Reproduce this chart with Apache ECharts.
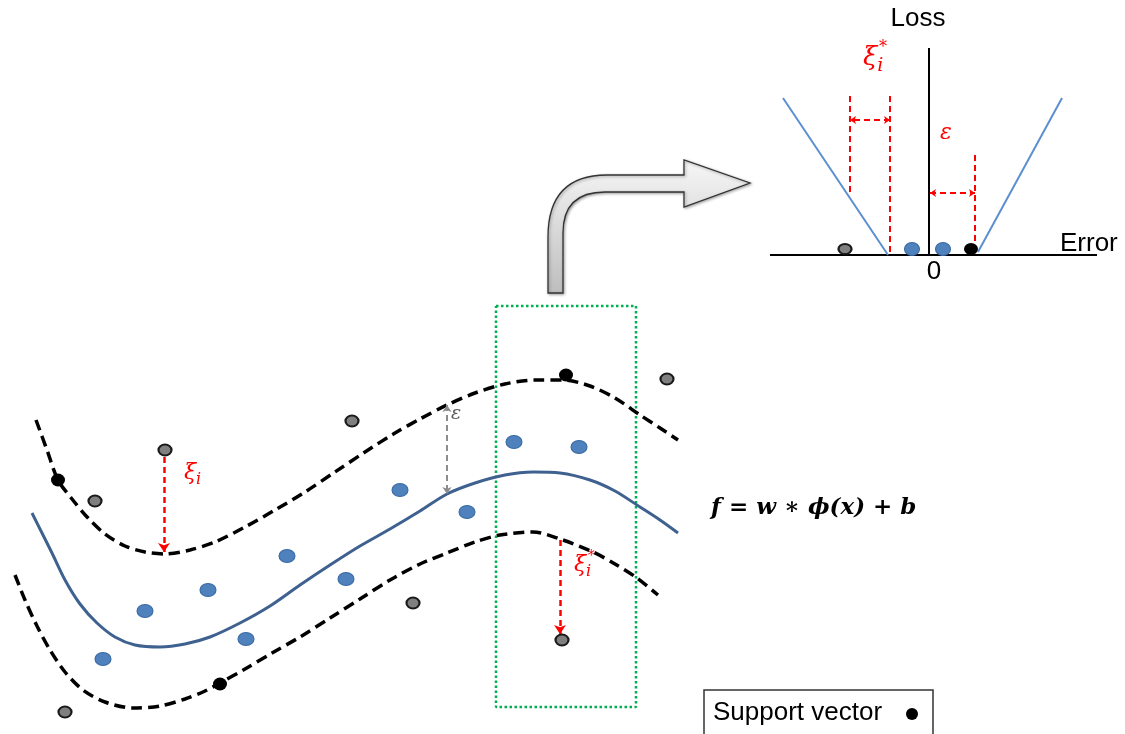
<!DOCTYPE html>
<html><head><meta charset="utf-8">
<script src="https://cdn.jsdelivr.net/npm/echarts@6/dist/echarts.min.js"></script>
<style>html,body{margin:0;padding:0;background:#fff}#c{width:1125px;height:734px}</style>
</head><body><div id="c"></div>
<script>
// ---- data (diagram coordinates) ----
const upperBand = [[36,420],[47,450],[58,480],[72,499],[88,518],[105,534],[125,546],[145,552],[165,554],[190,550],[215,542],[245,527],[275,510],[305,492],[335,472],[365,452],[395,433],[420,419],[447,405],[475,393],[505,384],[535,380],[563,380],[590,386],[615,398],[640,415],[660,428],[678,440]];
const regression = [[32,513],[42,533],[52,553],[65,580],[80,604],[97,623],[115,637],[135,645],[160,647],[185,644],[210,637],[240,623],[270,606],[300,585],[330,565],[360,546],[390,529],[420,511],[447,494],[475,483],[505,475],[533,472],[560,473],[590,480],[615,491],[640,507],[660,520],[678,533]];
const lowerBand = [[15,575],[25,600],[37,626],[50,650],[65,672],[83,690],[105,702],[133,708],[160,706],[185,699],[205,691],[220,683],[245,669],[272,653],[300,637],[330,618],[360,599],[390,580],[420,564],[447,553],[475,542],[500,535],[533,532],[560,539],[593,552],[615,564],[637,578],[658,595]];
const outsidePoints = [[165,450],[95,501],[352,421],[667,379],[413,603],[562,640],[65,712]];
const supportPoints = [[58,480],[566,375],[220,684]];
const insidePoints = [[514,442],[579,447],[400,490],[467,512],[287,556],[346,579],[208,590],[145,611],[246,639],[103,659]];
const windowBox = [[496,306],[636,306],[636,707],[496,707],[496,306]];
// inset loss function
const lossAxisV = [[929,48],[929,255]];
const lossAxisH = [[770,255],[1097,255]];
const lossLeft = [[783,98],[888,255]];
const lossRight = [[978,252],[1062,98]];
const insetGray = [[845,249]];
const insetBlue = [[912,249],[943,249]];
const insetBlack = [[971,249]];
const redGuides = [[[850,96],[850,195]],[[890,96],[890,255]],[[975,155],[975,250]]];
const redSpans = [[[890,120],[850,120]],[[930,193],[975,193]]];
const slackArrows = [[[164,457],[164,552]],[[560,540],[560,634]]];
const epsArrow = [[[447,405],[447,494]]];
const bentArrow = [['M',548,293],['L',548,237],['Q',548,175,607,175],['L',684,175],['L',684,160],['L',750,183],['L',684,207],['L',684,192],['L',605,192],['Q',563,192,563,233],['L',563,293],['Z']];

const chart = echarts.init(document.getElementById('c'));
const dashed = {color:'#000', width:3.5, type:[11,6]};
const serifI = '"DejaVu Serif", "Liberation Serif", serif';
const sans = '"Liberation Sans", Arial, sans-serif';
function xi(x, y, size, star){
  const els = [{type:'text', x:x, y:y, style:{text:'ξ', font:'italic '+size+'px '+serifI, fill:'#ff0000', textVerticalAlign:'middle'}}];
  els.push({type:'text', x:x+size*0.55, y:y+size*0.3, style:{text:'i', font:'italic '+Math.round(size*0.72)+'px '+serifI, fill:'#ff0000', textVerticalAlign:'middle'}});
  if(star) els.push({type:'text', x:x+size*0.62, y:y-size*0.4, style:{text:'*', font:Math.round(size*0.62)+'px '+serifI, fill:'#ff0000', textVerticalAlign:'middle'}});
  return els;
}
chart.setOption({
  animation:false,
  grid:{left:0,right:0,top:0,bottom:0},
  xAxis:{type:'value',min:0,max:1125,show:false},
  yAxis:{type:'value',min:0,max:734,inverse:true,show:false},
  series:[
    {type:'custom', renderItem:function(params, api){
        let d='';
        bentArrow.forEach(s=>{
          if(s[0]==='Z'){d+='Z';return;}
          if(s[0]==='Q'){const a=api.coord([s[1],s[2]]), b=api.coord([s[3],s[4]]); d+='Q'+a[0]+' '+a[1]+' '+b[0]+' '+b[1]+' ';}
          else {const a=api.coord([s[1],s[2]]); d+=s[0]+a[0]+' '+a[1]+' ';}
        });
        return {type:'path', shape:{pathData:d}, style:{fill:new echarts.graphic.LinearGradient(0,0,0,1,[{offset:0,color:'#f7f7f7'},{offset:1,color:'#bdbdbd'}]), stroke:'#333', lineWidth:1.3, shadowBlur:3, shadowColor:'rgba(0,0,0,0.35)', shadowOffsetX:1, shadowOffsetY:1}};
      }, data:[[0,0]], silent:true, z:1},
    {type:'line', data:windowBox, symbol:'none', lineStyle:{color:'#00b050', width:2.5, type:[2.5,2.5]}, z:2},
    {type:'line', data:upperBand, smooth:0.3, symbol:'none', lineStyle:dashed, z:3},
    {type:'line', data:lowerBand, smooth:0.3, symbol:'none', lineStyle:dashed, z:3},
    {type:'line', data:regression, smooth:0.3, symbol:'none', lineStyle:{color:'#3f6190', width:3}, z:3},
    {type:'line', data:lossAxisV, symbol:'none', lineStyle:{color:'#000', width:2}},
    {type:'line', data:lossAxisH, symbol:'none', lineStyle:{color:'#000', width:2}},
    {type:'line', data:lossLeft, symbol:'none', lineStyle:{color:'#5b8fd0', width:2}},
    {type:'line', data:lossRight, symbol:'none', lineStyle:{color:'#5b8fd0', width:2}},
    {type:'lines', coordinateSystem:'cartesian2d', data:redGuides.map(c=>({coords:c})), symbol:'none', lineStyle:{color:'#ff0000', width:2, type:[6,4], opacity:1}},
    {type:'lines', coordinateSystem:'cartesian2d', data:redSpans.map(c=>({coords:c})), symbol:['arrow','arrow'], symbolSize:6, lineStyle:{color:'#ff0000', width:2, type:[6,4], opacity:1}},
    {type:'lines', coordinateSystem:'cartesian2d', data:slackArrows.map(c=>({coords:c})), symbol:['none','arrow'], symbolSize:9, lineStyle:{color:'#ff0000', width:2.5, type:[6,4], opacity:1}, z:4},
    {type:'lines', coordinateSystem:'cartesian2d', data:epsArrow.map(c=>({coords:c})), symbol:['arrow','arrow'], symbolSize:7, lineStyle:{color:'#8c8c8c', width:2, type:[6,4], opacity:1}, z:4},
    {type:'scatter', data:outsidePoints, symbol:'circle', symbolSize:[13,11], itemStyle:{color:'#7f7f7f', borderColor:'#1a1a1a', borderWidth:2, opacity:1}, z:5},
    {type:'scatter', data:insetGray, symbol:'circle', symbolSize:[13,10], itemStyle:{color:'#7f7f7f', borderColor:'#1a1a1a', borderWidth:2, opacity:1}, z:5},
    {type:'scatter', data:supportPoints, symbol:'circle', symbolSize:[14,13], itemStyle:{color:'#000', opacity:1}, z:5},
    {type:'scatter', data:insetBlack, symbol:'circle', symbolSize:[14,12], itemStyle:{color:'#000', opacity:1}, z:5},
    {type:'scatter', data:insidePoints, symbol:'circle', symbolSize:[16,13], itemStyle:{color:'#4f81bd', borderColor:'#3a6aa5', borderWidth:1, opacity:1}, z:5},
    {type:'scatter', data:insetBlue, symbol:'circle', symbolSize:[15,13], itemStyle:{color:'#4f81bd', borderColor:'#3a6aa5', borderWidth:1, opacity:1}, z:5}
  ],
  graphic:[
    {type:'text', x:918, y:19, style:{text:'Loss', font:'26px '+sans, fill:'#000', textAlign:'center', textVerticalAlign:'middle'}},
    {type:'text', x:1060, y:244, style:{text:'Error', font:'26px '+sans, fill:'#000', textVerticalAlign:'middle'}},
    {type:'text', x:934, y:272, style:{text:'0', font:'26px '+sans, fill:'#000', textAlign:'center', textVerticalAlign:'middle'}},
    {type:'text', x:946, y:133, style:{text:'ε', font:'italic 22px '+serifI, fill:'#ff0000', textAlign:'center', textVerticalAlign:'middle'}},
    {type:'text', x:456, y:414, style:{text:'ε', font:'italic 19px '+serifI, fill:'#595959', textAlign:'center', textVerticalAlign:'middle'}},
    ...xi(863, 58, 26, true),
    ...xi(184, 473, 22, false),
    ...xi(574, 565, 22, true),
    {type:'text', x:711, y:508, style:{text:'f = w ∗ ϕ(x) + b', font:'italic bold 23px '+serifI, fill:'#000', textVerticalAlign:'middle'}},
    {type:'rect', shape:{x:704, y:690, width:229, height:60}, style:{fill:'#fff', stroke:'#333', lineWidth:1.5}},
    {type:'text', x:713, y:713, style:{text:'Support vector', font:'26px '+sans, fill:'#000', textVerticalAlign:'middle'}},
    {type:'circle', shape:{cx:912, cy:714, r:6}, style:{fill:'#000'}}
  ]
});
</script></body></html>
